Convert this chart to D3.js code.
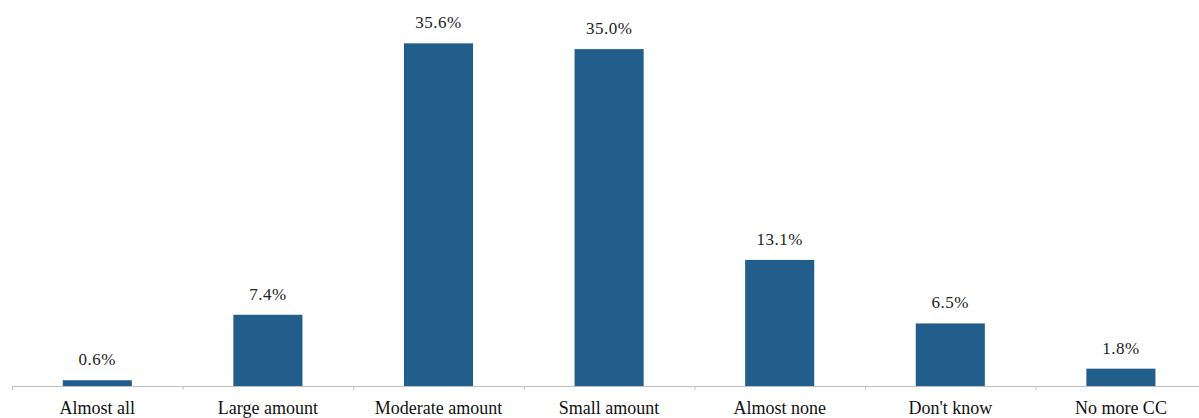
<!DOCTYPE html>
<html><head><meta charset="utf-8">
<script src="https://cdn.jsdelivr.net/npm/d3@7"></script>
<style>body{margin:0;background:#fff}svg{display:block}</style>
</head><body>
<script>
const categories = ["Almost all","Large amount","Moderate amount","Small amount","Almost none","Don't know","No more CC"];
const values = [0.6, 7.4, 35.6, 35.0, 13.1, 6.5, 1.8];
const valueLabels = ["0.6%","7.4%","35.6%","35.0%","13.1%","6.5%","1.8%"];

const W = 1199, H = 418;
const svg = d3.select("body").append("svg").attr("width", W).attr("height", H);
const x = d3.scaleBand().domain(categories).range([12, 12 + 7*170.6]).padding(0);
const y = d3.scaleLinear().domain([0, 40]).range([386, 1]);
const bw = x.bandwidth() * 0.405;

svg.selectAll("rect.bar").data(values).enter().append("rect")
  .attr("x", (d,i) => x(categories[i]) + (x.bandwidth()-bw)/2)
  .attr("y", d => y(d))
  .attr("width", bw)
  .attr("height", d => y(0) - y(d))
  .attr("fill", "#215e8c");

svg.append("line").attr("x1", 12).attr("x2", W).attr("y1", y(0)+0.5).attr("y2", y(0)+0.5)
  .attr("stroke", "#bfbfbf").attr("stroke-width", 1);
const ticks = categories.map(c => x(c));
svg.selectAll("line.tick").data(ticks).enter().append("line")
  .attr("x1", d => d+0.5).attr("x2", d => d+0.5).attr("y1", y(0)).attr("y2", y(0)+4)
  .attr("stroke", "#bfbfbf");

svg.selectAll("text.val").data(values).enter().append("text")
  .attr("x", (d,i) => x(categories[i]) + x.bandwidth()/2)
  .attr("y", d => y(d) - 15)
  .attr("text-anchor", "middle")
  .attr("font-family", "Liberation Serif, Times New Roman, serif")
  .attr("font-size", 17).attr("letter-spacing", 0.5).attr("fill", "#222")
  .text((d,i) => valueLabels[i]);

svg.selectAll("text.cat").data(categories).enter().append("text")
  .attr("x", d => x(d) + x.bandwidth()/2)
  .attr("y", 414)
  .attr("text-anchor", "middle")
  .attr("font-family", "Liberation Serif, Times New Roman, serif")
  .attr("font-size", 18).attr("fill", "#111")
  .text(d => d);
</script>
</body></html>
